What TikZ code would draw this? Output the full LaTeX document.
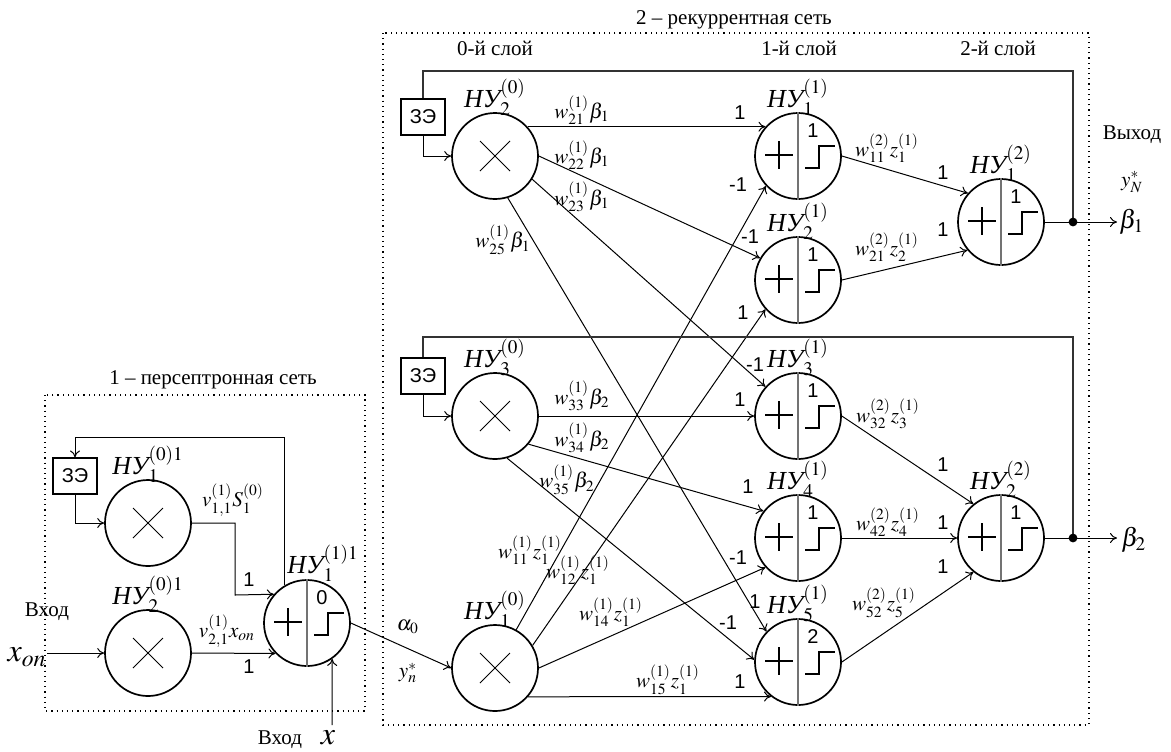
\documentclass[tikz,border=0pt]{standalone}
\usepackage{mathptmx}
\usepackage[no-math]{fontspec}
\setmainfont{Liberation Serif}
\newfontfamily\arialf{Liberation Sans}
\usetikzlibrary{arrows.meta}

\newcommand{\nuname}[2]{$\mbox{\itshape НУ}_{#1}^{#2}$}

\tikzset{
  mulnode/.style={circle, draw, line width=0.85pt, minimum size=43pt, inner sep=0pt},
  sumnode/.style={circle, draw, line width=0.85pt, minimum size=43pt, inner sep=0pt},
  zebox/.style={draw, line width=0.6pt, minimum width=22pt, minimum height=18pt, inner sep=0pt, font=\arialf\fontsize{10}{12}\selectfont},
  nulbl/.style={font=\fontsize{13}{15}\selectfont, inner sep=0pt, anchor=base},
  wlbl/.style={font=\fontsize{10.5}{12}\selectfont, inner sep=0pt},
  numlbl/.style={font=\arialf\fontsize{10}{12}\selectfont, inner sep=0pt},
  txtlbl/.style={font=\fontsize{10.5}{12}\selectfont, inner sep=0pt},
  biglbl/.style={font=\fontsize{16}{18}\selectfont, inner sep=0pt},
  outlbl/.style={font=\fontsize{13}{15}\selectfont, inner sep=0pt},
  conn/.style={line width=0.5pt, -{To[length=3.5pt,width=5pt]}},
  fbline/.style={line width=0.6pt, black!80},
  netbox/.style={dotted, line width=0.6pt},
}

\begin{document}
\begin{tikzpicture}[x=0.5pt, y=-0.5pt]
\useasboundingbox (0,0) rectangle (1171,751);

% network frames and titles
\draw[netbox] (45,395) rectangle (365,711);
\draw[netbox] (383,33) rectangle (1089,725);
\node[txtlbl] (ttl1) at (213,380) {1 – персептронная сеть};
\node[txtlbl] (ttl2) at (734,20) {2 – рекуррентная сеть};
\node[txtlbl] (lay0) at (495,48) {0-й слой};
\node[txtlbl] (lay1) at (799,48) {1-й слой};
\node[txtlbl] (lay2) at (998,48) {2-й слой};

% delay elements
\node[zebox] (zl) at (75,476) {ЗЭ};
\node[zebox] (z2) at (423,117) {ЗЭ};
\node[zebox] (z3) at (423,376) {ЗЭ};

% multiplier nodes
\foreach \nd/\px/\py in {ml1/148/523, ml2/148/653, m2/495/156, m3/495/416, m1/495/668}{
  \node[mulnode] (\nd) at (\px,\py) {};
  \begin{scope}[shift={(\px,\py)}]
    \draw[line width=0.5pt] (-15,-15) -- (15,15) (-15,15) -- (15,-15);
  \end{scope}
}

% summing nodes with threshold
\foreach \nd/\px/\py/\thr in {sl/307/623/0, s1/798/156/1, s2/798/280/1, s3/798/416/1,
    s4/798/538/1, s5/798/662/2, t1/1001/222/1, t2/1001/538/1}{
  \node[sumnode] (\nd) at (\px,\py) {};
  \draw[black!55, line width=0.6pt] (\nd.north) -- (\nd.south);
  \begin{scope}[shift={(\px,\py)}]
    \draw[line width=1.4pt] (-33,-1) -- (-5,-1) (-19,-15) -- (-19,13);
    \draw[line width=0.75pt] (7,12) -- (21,12) -- (21,-10) -- (37,-10);
    \node[numlbl] (\nd thr) at (15,-25) {\thr};
  \end{scope}
}

% node names
\foreach \nd/\sb/\sp in {ml1/1/{(0)1}, ml2/2/{(0)1}, m2/2/{(0)}, m3/3/{(0)}, m1/1/{(0)},
    s1/1/{(1)}, s2/2/{(1)}, s3/3/{(1)}, s4/4/{(1)}, s5/5/{(1)}, t1/1/{(2)}, t2/2/{(2)}}{
  \node[nulbl] (\nd lbl) at ([yshift=2.5pt]\nd.north) {\nuname{\sb}{\sp}};
}
\node[nulbl] (sllbl) at ([xshift=8pt, yshift=3pt]sl.north) {\nuname{1}{(1)1}};

% perceptron network connections
\coordinate (fbl) at (75,437);
\coordinate (kl) at (235,595);
\coordinate (xon) at (47,653);
\coordinate (xbot) at (332,725);
\draw[conn] (sl.121) |- (fbl) -- (zl.north);
\draw[conn] (zl.south) |- (ml1.west);
\draw[conn] (ml1.east) -| (kl) -- (sl.139);
\draw[conn] (ml2.east) -- (sl.224);
\draw[conn] (xon) -- (ml2.west);
\draw[conn] (xbot) -- (sl.-55);
\draw[conn] (sl.east) -- (m1.west);

% recurrent network, layer 0 -> layer 1
\draw[conn] (m2.42) -- (s1.138);
\draw[conn] (m2.east) -- (s2.150);
\draw[conn] (m2.-32) -- (s3.138);
\draw[conn] (m2.-73) -- (s5.136);
\draw[conn] (m3.east) -- (s3.west);
\draw[conn] (m3.-40) -- (s4.142);
\draw[conn] (m3.-74) -- (s5.177);
\draw[conn] (m1.61) -- (s1.223);
\draw[conn] (m1.31) -- (s2.222);
\draw[conn] (m1.east) -- (s4.222);
\draw[conn] (m1.-41) -- (s5.232);

% layer 1 -> layer 2
\draw[conn] (s1.east) -- (t1.139);
\draw[conn] (s2.east) -- (t1.220);
\draw[conn] (s3.east) -- (t2.129);
\draw[conn] (s4.east) -- (t2.west);
\draw[conn] (s5.east) -- (t2.231);

% outputs and feedback
\coordinate (j1) at (1073,222);
\coordinate (j2) at (1073,538);
\coordinate (o1) at (1117,222);
\coordinate (o2) at (1117,538);
\coordinate (fbr1) at (423,71);
\coordinate (fbr2) at (423,337);
\draw[line width=0.5pt] (t1.east) -- (j1);
\draw[line width=0.5pt] (t2.east) -- (j2);
\draw[conn] (j1) -- (o1);
\draw[conn] (j2) -- (o2);
\draw[fbline] (j1) |- (fbr1) -- (z2.north);
\draw[fbline] (j2) |- (fbr2) -- (z3.north);
\fill (j1) circle (2.2pt);
\fill (j2) circle (2.2pt);
\draw[conn] (z2.south) |- (m2.west);
\draw[conn] (z3.south) |- (m3.west);

% weights
\foreach \nm/\px/\py/\wt in {vl1/233/500/{$v_{1,1}^{(1)}S_1^{(0)}$}, vl2/227/631/{$v_{2,1}^{(1)}x_{on}$},
    w21/582/110/{$w_{21}^{(1)}\beta_1$}, w22/582/155/{$w_{22}^{(1)}\beta_1$},
    w23/582/197/{$w_{23}^{(1)}\beta_1$}, w25/503/240/{$w_{25}^{(1)}\beta_1$},
    w33/582/396/{$w_{33}^{(1)}\beta_2$}, w34/582/438/{$w_{34}^{(1)}\beta_2$},
    w35/567/480/{$w_{35}^{(1)}\beta_2$}, w11/530/550/{$w_{11}^{(1)}z_1^{(1)}$},
    w12/578/570/{$w_{12}^{(1)}z_1^{(1)}$}, w14/611/612/{$w_{14}^{(1)}z_1^{(1)}$},
    w15/668/680/{$w_{15}^{(1)}z_1^{(1)}$}, u11/887/148/{$w_{11}^{(2)}z_1^{(1)}$},
    u21/887/247/{$w_{21}^{(2)}z_2^{(1)}$}, u32/888/414/{$w_{32}^{(2)}z_3^{(1)}$},
    u42/888/522/{$w_{42}^{(2)}z_4^{(1)}$}, u52/884/603/{$w_{52}^{(2)}z_5^{(1)}$}}{
  \node[wlbl] (\nm) at (\px,\py) {\wt};
}

% connection gains
\foreach \px/\py/\g [count=\i] in {249/580/1, 249/667/1, 740/113/1, 738/185/-1, 750/237/-1,
    743/313/1, 755/365/-1, 740/400/1, 748/487/1, 738/558/-1, 755/602/1, 728/623/-1,
    740/682/1, 943/173/1, 943/230/1, 943/465/1, 943/523/1, 943/567/1}{
  \node[numlbl] (g\i) at (\px,\py) {\g};
}

% inputs and outputs
\node[txtlbl] (inl) at (47,612) {Вход};
\node[biglbl] (xonl) at (27,657) {$x_{on}$};
\node[txtlbl] (inbl) at (280,740) {Вход};
\node[biglbl] (xbl) at (328,738) {$x$};
\node[wlbl] (al0) at (408,627) {$\alpha_0$};
\node[wlbl] (ynl) at (408,673) {$y_n^*$};
\node[txtlbl] (outl) at (1132,135) {Выход};
\node[wlbl] (yNl) at (1132,182) {$y_N^*$};
\node[outlbl, anchor=west] (b1l) at (1119,222) {$\beta_1$};
\node[outlbl, anchor=west] (b2l) at (1121,540) {$\beta_2$};
\end{tikzpicture}
\end{document}
